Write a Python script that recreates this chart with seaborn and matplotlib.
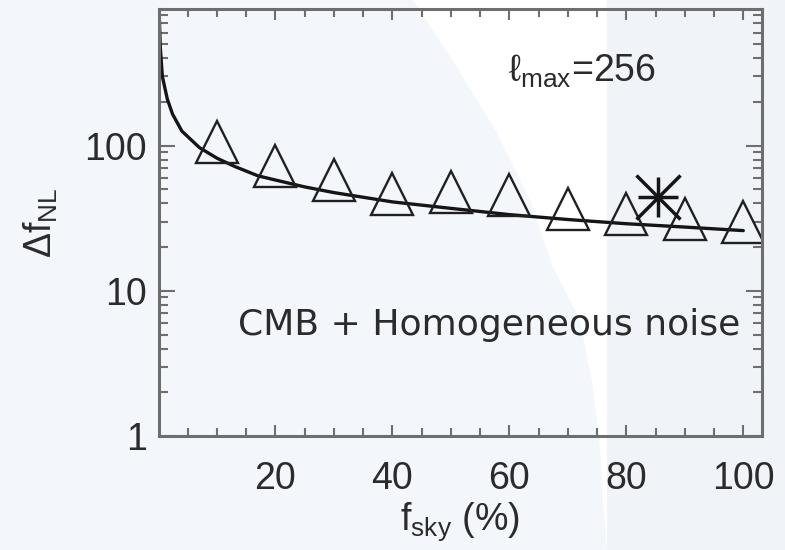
import matplotlib
matplotlib.use("Agg")
import matplotlib.pyplot as plt
from matplotlib.patches import Polygon, Rectangle
from matplotlib.ticker import FixedLocator, NullFormatter
import seaborn as sns

# Measured sky fractions (%) and the recovered error on f_NL
fsky_meas = [10, 20, 30, 40, 50, 60, 70, 80, 90, 100]
dfnl_meas = [106, 72.5, 58, 46.6, 48, 46, 36.9, 34.0, 31.5, 29.8]

# Single full-analysis point (asterisk)
fsky_star = [85.4]
dfnl_star = [44]

# Expected scaling curve
fsky_curve = [0.1, 0.3, 0.66, 1.5, 2.4, 4, 7, 10, 13, 17, 20, 25, 30, 40,
              50, 60, 70, 80, 90, 100]
dfnl_curve = [850, 480, 300, 210, 165, 126, 97, 82, 72, 62, 58, 52, 47.5, 41,
              37, 33.5, 31, 29, 27.5, 26]

xticks = [20, 40, 60, 80, 100]
yticks = [1, 10, 100]
ytick_labels = ["1", "10", "100"]

sns.set_style("ticks")
plt.rcParams["font.family"] = ["Liberation Sans", "DejaVu Sans"]
plt.rcParams["mathtext.fontset"] = "custom"
plt.rcParams["mathtext.rm"] = "Liberation Sans"
plt.rcParams["mathtext.it"] = "Liberation Sans:italic"

W, H = 785, 550
fig = plt.figure(figsize=(W / 100, H / 100), dpi=100)
fig.patch.set_facecolor("#f3f6fb")


def fpx(x, y):
    return (x / W, 1 - y / H)


# page background: white band and a slightly tinted right panel
band = [(413, 0), (457, 67), (497, 133), (530, 200), (553, 267), (580, 320),
        (593, 387), (600, 450), (603, 500), (607, 550), (607, 0)]
fig.patches.append(Polygon([fpx(*p) for p in band], closed=True,
                           transform=fig.transFigure, facecolor="white",
                           edgecolor="none", zorder=-10))
fig.patches.append(Rectangle(fpx(607, 550), (W - 607) / W, 1,
                             transform=fig.transFigure, facecolor="#f0f4f9",
                             edgecolor="none", zorder=-10))

left, right, top, bottom = 158.5, 762, 9.3, 436
ax = fig.add_axes([left / W, 1 - bottom / H, (right - left) / W, (bottom - top) / H])
ax.set_facecolor("none")

ink = "#151515"
sns.lineplot(x=fsky_curve, y=dfnl_curve, ax=ax, color=ink, linewidth=2.4,
             sort=False, estimator=None)
sns.lineplot(x=fsky_meas, y=dfnl_meas, ax=ax, linestyle="none", marker="^",
             markersize=30, markerfacecolor="none", markeredgecolor="#202020",
             markeredgewidth=1.7, sort=False, estimator=None)
sns.lineplot(x=fsky_star, y=dfnl_star, ax=ax, linestyle="none", marker="x",
             markersize=31, markeredgecolor=ink, markeredgewidth=2.5,
             estimator=None)
sns.lineplot(x=fsky_star, y=dfnl_star, ax=ax, linestyle="none", marker="+",
             markersize=29, markeredgecolor=ink, markeredgewidth=2.5,
             estimator=None)

ax.set_yscale("log")
ax.set_xlim(0, 103.2)
ax.set_ylim(1, 870)

axis_grey = "#6e6e6e"
for side in ["left", "right", "top", "bottom"]:
    ax.spines[side].set_visible(True)
    ax.spines[side].set_color(axis_grey)
    ax.spines[side].set_linewidth(2.2)

ax.xaxis.set_major_locator(FixedLocator(xticks))
ax.xaxis.set_minor_locator(FixedLocator([v for v in range(5, 105, 5) if v % 20]))
ax.set_xticklabels([str(v) for v in xticks])
ax.yaxis.set_major_locator(FixedLocator(yticks))
ax.yaxis.set_minor_locator(FixedLocator([m * 10 ** e for e in range(3)
                                         for m in range(2, 10)]))
ax.set_yticklabels(ytick_labels)
ax.yaxis.set_minor_formatter(NullFormatter())

ax.tick_params(axis="both", which="both", direction="in", color=axis_grey,
               width=1.5, labelcolor="#2b2b2b", labelsize=27,
               top=True, right=True)
ax.tick_params(axis="y", which="major", length=11.5, pad=8.6)
ax.tick_params(axis="y", which="minor", length=6.3)
ax.tick_params(axis="x", which="major", length=8, pad=18)
ax.tick_params(axis="x", which="minor", length=6)

ax.set_xlabel(r"f$_{\rm sky}$ (%)", fontsize=27, color="#2b2b2b")
ax.xaxis.set_label_coords(0.5, -0.15)
ax.set_ylabel(r"Δf$_{\rm NL}$", fontsize=27, color="#2b2b2b")
ax.yaxis.set_label_coords(-0.163, 0.5)

ax.text(13.6, 4.94, "CMB + Homogeneous noise", fontsize=26, color="#2b2b2b",
        family="DejaVu Sans", ha="left", va="baseline")
ax.text(59.8, 276, r"ℓ$_{\rm max}$=256", fontsize=27, color="#2b2b2b",
        ha="left", va="baseline")

fig.savefig("out.png", dpi=100, facecolor=fig.get_facecolor())
